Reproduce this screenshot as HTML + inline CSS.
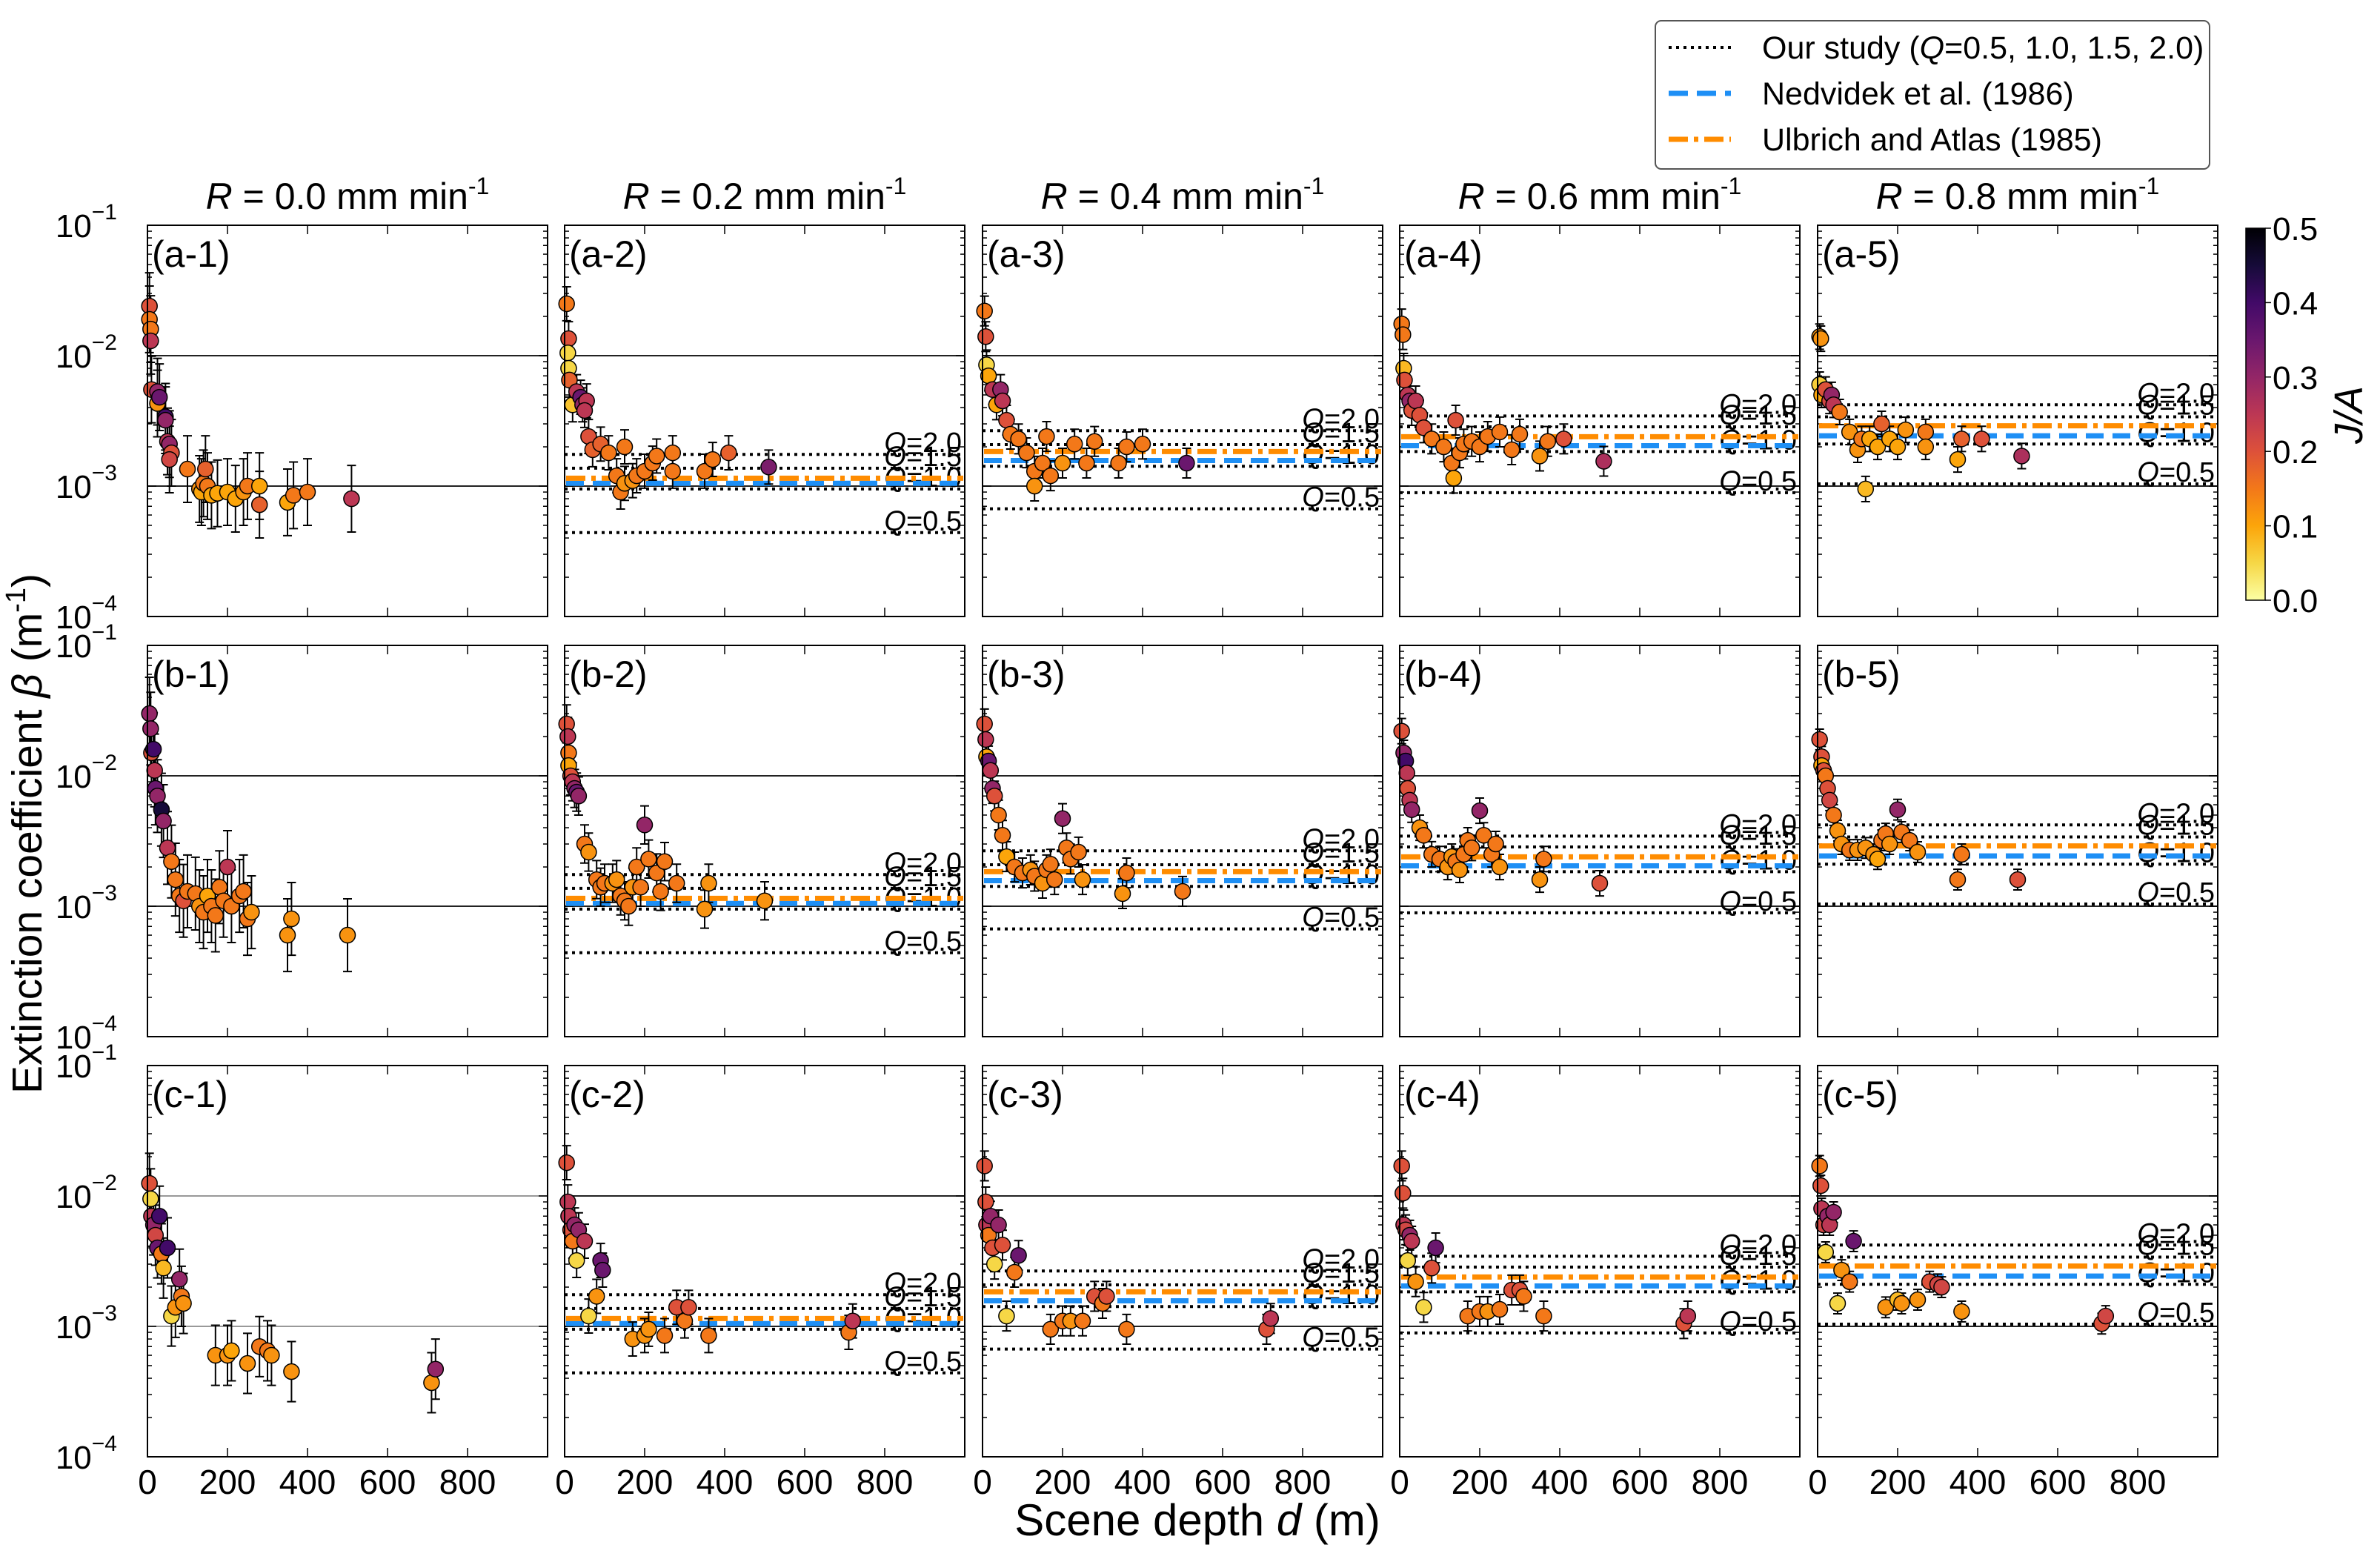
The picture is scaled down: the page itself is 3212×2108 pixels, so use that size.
<!DOCTYPE html>
<html><head><meta charset="utf-8">
<style>
html,body{margin:0;padding:0;background:#fff;}
svg{display:block;font-family:"Liberation Sans",sans-serif;}
</style></head>
<body>
<svg id="fig" width="3212" height="2108" viewBox="0 0 3212 2108" xmlns="http://www.w3.org/2000/svg">
<defs>
<linearGradient id="cbgrad" x1="0" y1="1" x2="0" y2="0">
<stop offset="0" stop-color="#fcffa4"/><stop offset="0.1" stop-color="#f6d746"/><stop offset="0.2" stop-color="#fca50a"/>
<stop offset="0.3" stop-color="#f37819"/><stop offset="0.4" stop-color="#dd513a"/><stop offset="0.5" stop-color="#bc3754"/>
<stop offset="0.6" stop-color="#932667"/><stop offset="0.7" stop-color="#6a176e"/><stop offset="0.8" stop-color="#420a68"/>
<stop offset="0.9" stop-color="#160b39"/><stop offset="1" stop-color="#000004"/>
</linearGradient>
</defs>
</svg>
<script>
// ---- data ----
const rowKeys = ['a','b','c'];
const rainRates = ['0.0','0.2','0.4','0.6','0.8'];
const xTicks = [0,200,400,600,800];
const yTickExps = [-4,-3,-2,-1];
const cbTicks = [0.0,0.1,0.2,0.3,0.4,0.5];
// reference line values per column (R): Q=2.0,1.5,1.0,0.5
const qLabels = ['2.0','1.5','1.0','0.5'];
const qLines = [null,[1.75e-3,1.37e-3,0.95e-3,4.4e-4],[2.66e-3,2.08e-3,1.42e-3,6.7e-4],[3.45e-3,2.85e-3,1.84e-3,0.89e-3],[4.2e-3,3.4e-3,2.1e-3,1.04e-3]];
const nedvidek = [null,1.05e-3,1.57e-3,2.04e-3,2.43e-3];
const ulbrich = [null,1.15e-3,1.84e-3,2.39e-3,2.9e-3];
const errFactor = {a:[1.8,1.35,1.3,1.3,1.25],b:[1.9,1.4,1.3,1.25,1.2],c:[1.7,1.35,1.3,1.3,1.2]};
// points: [d, beta, J/A]
const panels = {
'a-1':[[5,2.4e-2,.2],[5,1.9e-2,.15],[8,1.6e-2,.15],[8,1.3e-2,.25],[10,5.5e-3,.2],[25,5.3e-3,.3],[25,4.3e-3,.12],[30,4.8e-3,.35],[45,3.4e-3,.4],[45,3.2e-3,.3],[50,2.2e-3,.25],[55,2.1e-3,.3],[60,1.8e-3,.2],[55,1.6e-3,.22],[100,1.35e-3,.15],[130,0.95e-3,.12],[135,0.9e-3,.1],[140,1.05e-3,.15],[145,1.35e-3,.18],[150,1.0e-3,.15],[160,0.85e-3,.1],[175,0.88e-3,.1],[200,0.9e-3,.1],[220,0.8e-3,.1],[240,0.9e-3,.12],[250,1.0e-3,.15],[280,1.0e-3,.1],[280,0.72e-3,.18],[350,0.75e-3,.1],[365,0.85e-3,.15],[400,0.9e-3,.15],[510,0.8e-3,.25]],
'a-2':[[5,2.5e-2,.15],[10,1.35e-2,.2],[8,1.05e-2,.05],[10,8e-3,.05],[12,6.5e-3,.18],[20,4.2e-3,.07],[30,5.3e-3,.25],[40,4.8e-3,.35],[45,4.2e-3,.3],[55,4.5e-3,.25],[50,3.8e-3,.25],[60,2.4e-3,.2],[70,1.9e-3,.18],[90,2.1e-3,.18],[110,1.8e-3,.15],[150,2.0e-3,.15],[130,1.2e-3,.15],[140,0.9e-3,.15],[150,1.05e-3,.12],[170,1.1e-3,.12],[180,1.2e-3,.15],[200,1.3e-3,.15],[220,1.5e-3,.15],[230,1.7e-3,.15],[270,1.8e-3,.15],[270,1.3e-3,.15],[350,1.3e-3,.15],[370,1.6e-3,.15],[410,1.8e-3,.18],[510,1.4e-3,.33]],
'a-3':[[5,2.2e-2,.15],[8,1.4e-2,.2],[10,8.5e-3,.05],[15,7e-3,.1],[25,5.5e-3,.25],[35,4.2e-3,.1],[45,5.5e-3,.3],[50,4.5e-3,.25],[60,3.2e-3,.2],[70,2.5e-3,.15],[90,2.3e-3,.15],[110,1.8e-3,.15],[130,1.3e-3,.15],[130,1.0e-3,.12],[150,1.5e-3,.15],[160,2.4e-3,.15],[170,1.2e-3,.15],[200,1.5e-3,.12],[230,2.1e-3,.15],[260,1.5e-3,.15],[280,2.2e-3,.15],[340,1.5e-3,.15],[360,2.0e-3,.15],[400,2.1e-3,.15],[510,1.5e-3,.35]],
'a-4':[[5,1.75e-2,.15],[8,1.45e-2,.15],[10,8e-3,.08],[12,6.5e-3,.2],[20,5e-3,.25],[25,4.5e-3,.3],[30,3.8e-3,.2],[40,4.5e-3,.25],[50,3.5e-3,.2],[60,2.8e-3,.2],[80,2.3e-3,.15],[110,2.0e-3,.15],[130,1.5e-3,.15],[135,1.15e-3,.1],[140,3.2e-3,.2],[150,1.8e-3,.15],[160,2.1e-3,.15],[180,2.2e-3,.15],[200,2.0e-3,.15],[220,2.4e-3,.15],[250,2.6e-3,.15],[280,1.9e-3,.15],[300,2.5e-3,.15],[350,1.7e-3,.12],[370,2.2e-3,.15],[410,2.3e-3,.2],[510,1.55e-3,.27]],
'a-5':[[5,1.4e-2,.12],[8,1.35e-2,.12],[5,6e-3,.06],[10,5e-3,.1],[20,5.5e-3,.2],[30,4.5e-3,.22],[35,5e-3,.3],[40,4.2e-3,.25],[55,3.7e-3,.15],[80,2.6e-3,.12],[100,1.9e-3,.12],[110,2.3e-3,.15],[120,0.95e-3,.08],[130,2.3e-3,.1],[150,2.0e-3,.1],[160,3.0e-3,.18],[180,2.3e-3,.1],[200,2.0e-3,.1],[220,2.7e-3,.12],[270,2.6e-3,.15],[270,2.0e-3,.12],[350,1.6e-3,.1],[360,2.3e-3,.18],[410,2.3e-3,.2],[510,1.7e-3,.27]],
'b-1':[[5,3e-2,.3],[8,2.3e-2,.3],[10,1.5e-2,.2],[15,1.6e-2,.4],[18,1.1e-2,.25],[20,8e-3,.35],[25,7e-3,.3],[35,5.5e-3,.45],[40,4.5e-3,.3],[50,2.8e-3,.25],[60,2.2e-3,.15],[70,1.6e-3,.15],[80,1.2e-3,.15],[90,1.1e-3,.2],[100,1.3e-3,.15],[120,1.25e-3,.15],[130,1.0e-3,.12],[140,0.9e-3,.15],[150,1.2e-3,.1],[160,1.0e-3,.15],[170,0.85e-3,.15],[180,1.4e-3,.15],[190,1.1e-3,.15],[200,2.0e-3,.25],[210,1.0e-3,.15],[230,1.2e-3,.15],[240,1.3e-3,.15],[250,0.8e-3,.15],[260,0.9e-3,.12],[350,0.6e-3,.12],[360,0.8e-3,.12],[500,0.6e-3,.12]],
'b-2':[[5,2.5e-2,.2],[8,2e-2,.25],[10,1.5e-2,.15],[10,1.2e-2,.1],[15,1e-2,.2],[20,9e-3,.25],[25,8e-3,.3],[30,7.5e-3,.35],[35,7e-3,.3],[50,3e-3,.15],[60,2.6e-3,.12],[80,1.6e-3,.15],[90,1.4e-3,.15],[100,1.5e-3,.15],[120,1.5e-3,.12],[130,1.6e-3,.12],[140,1.2e-3,.15],[150,1.1e-3,.15],[160,1.0e-3,.15],[170,1.4e-3,.12],[180,2.0e-3,.15],[190,1.4e-3,.15],[200,4.2e-3,.3],[210,2.3e-3,.15],[230,1.8e-3,.15],[240,1.3e-3,.15],[250,2.2e-3,.15],[280,1.5e-3,.15],[350,0.95e-3,.12],[360,1.5e-3,.12],[500,1.1e-3,.12]],
'b-3':[[5,2.5e-2,.2],[8,1.9e-2,.25],[10,1.4e-2,.1],[15,1.3e-2,.35],[20,1.1e-2,.25],[25,8e-3,.3],[30,7e-3,.2],[40,5e-3,.15],[50,3.5e-3,.15],[60,2.4e-3,.1],[80,2.0e-3,.15],[100,1.8e-3,.15],[120,1.9e-3,.12],[130,1.7e-3,.15],[150,1.5e-3,.12],[160,1.9e-3,.15],[170,2.1e-3,.15],[180,1.6e-3,.15],[200,4.7e-3,.3],[210,2.8e-3,.15],[220,2.3e-3,.15],[240,2.6e-3,.15],[250,1.6e-3,.12],[350,1.25e-3,.12],[360,1.8e-3,.15],[500,1.3e-3,.15]],
'b-4':[[5,2.2e-2,.2],[10,1.5e-2,.3],[15,1.3e-2,.4],[18,1.05e-2,.25],[20,8e-3,.2],[25,6.5e-3,.25],[30,5.5e-3,.3],[50,4e-3,.12],[60,3.5e-3,.15],[80,2.5e-3,.15],[100,2.3e-3,.15],[120,2.0e-3,.12],[130,2.4e-3,.12],[140,2.2e-3,.15],[150,1.9e-3,.12],[160,2.5e-3,.15],[170,3.2e-3,.15],[180,2.8e-3,.15],[200,5.4e-3,.3],[210,3.5e-3,.15],[230,2.5e-3,.15],[240,3.0e-3,.15],[250,2.0e-3,.12],[350,1.6e-3,.12],[360,2.3e-3,.15],[500,1.5e-3,.2]],
'b-5':[[5,1.9e-2,.2],[10,1.4e-2,.2],[10,1.2e-2,.1],[15,1.1e-2,.2],[20,1e-2,.15],[25,8e-3,.2],[30,6.5e-3,.22],[40,5e-3,.15],[50,3.8e-3,.12],[60,3.0e-3,.12],[80,2.7e-3,.15],[100,2.7e-3,.12],[120,2.8e-3,.12],[140,2.5e-3,.12],[150,2.3e-3,.1],[160,3.2e-3,.15],[170,3.6e-3,.15],[180,3.0e-3,.12],[200,5.5e-3,.3],[210,3.7e-3,.15],[230,3.2e-3,.15],[250,2.6e-3,.12],[350,1.6e-3,.15],[360,2.5e-3,.15],[500,1.6e-3,.2]],
'c-1':[[5,1.25e-2,.2],[8,9.5e-3,.05],[10,7e-3,.25],[15,6e-3,.3],[20,5e-3,.22],[25,4e-3,.35],[30,7e-3,.4],[35,3.6e-3,.15],[40,2.8e-3,.08],[50,4e-3,.4],[60,1.2e-3,.05],[70,1.4e-3,.12],[80,2.3e-3,.3],[85,1.7e-3,.15],[90,1.5e-3,.12],[170,0.6e-3,.12],[200,0.6e-3,.12],[210,0.65e-3,.1],[250,0.52e-3,.12],[280,0.7e-3,.15],[300,0.65e-3,.15],[310,0.6e-3,.12],[360,0.45e-3,.12],[710,0.37e-3,.12],[720,0.47e-3,.3]],
'c-2':[[5,1.8e-2,.2],[8,9e-3,.25],[10,7e-3,.25],[15,5.5e-3,.2],[20,4.5e-3,.15],[25,6e-3,.3],[30,3.2e-3,.05],[35,5.5e-3,.3],[50,4.5e-3,.25],[60,1.2e-3,.05],[80,1.7e-3,.12],[90,3.2e-3,.35],[95,2.7e-3,.35],[170,0.8e-3,.12],[200,0.85e-3,.12],[210,0.95e-3,.12],[250,0.85e-3,.15],[280,1.4e-3,.2],[300,1.1e-3,.15],[310,1.4e-3,.2],[360,0.85e-3,.15],[710,0.9e-3,.15],[720,1.1e-3,.25]],
'c-3':[[5,1.7e-2,.2],[8,9e-3,.2],[10,6e-3,.25],[15,5e-3,.15],[20,7e-3,.3],[25,4e-3,.2],[30,3e-3,.05],[40,6e-3,.3],[50,4.2e-3,.2],[60,1.2e-3,.05],[80,2.6e-3,.15],[90,3.5e-3,.35],[170,0.95e-3,.15],[200,1.1e-3,.15],[220,1.1e-3,.12],[250,1.1e-3,.15],[280,1.7e-3,.2],[300,1.5e-3,.15],[310,1.7e-3,.2],[360,0.95e-3,.15],[710,0.95e-3,.2],[720,1.15e-3,.25]],
'c-4':[[5,1.7e-2,.2],[8,1.05e-2,.2],[10,6e-3,.25],[15,5.5e-3,.22],[20,3.2e-3,.05],[25,5e-3,.3],[30,4.5e-3,.25],[40,2.2e-3,.12],[60,1.4e-3,.05],[80,2.8e-3,.2],[90,4e-3,.35],[170,1.2e-3,.15],[200,1.3e-3,.15],[220,1.3e-3,.12],[250,1.35e-3,.15],[280,1.9e-3,.2],[300,1.9e-3,.2],[310,1.7e-3,.15],[360,1.2e-3,.15],[710,1.05e-3,.2],[720,1.2e-3,.25]],
'c-5':[[5,1.7e-2,.15],[8,1.2e-2,.2],[10,8e-3,.25],[15,6e-3,.22],[20,3.7e-3,.05],[25,7e-3,.3],[30,6e-3,.25],[40,7.5e-3,.3],[50,1.5e-3,.05],[60,2.7e-3,.12],[80,2.2e-3,.15],[90,4.5e-3,.35],[170,1.4e-3,.12],[200,1.6e-3,.08],[210,1.5e-3,.12],[250,1.6e-3,.12],[280,2.2e-3,.2],[300,2.1e-3,.22],[310,2.0e-3,.22],[360,1.3e-3,.12],[710,1.05e-3,.2],[720,1.2e-3,.22]]
};
// ---- layout ----
const NS='http://www.w3.org/2000/svg';
const svg=document.getElementById('fig');
const colX=[199,762,1326,1889,2453], rowY=[304,871,1438], PW=540, PH=528;
const infernoStops=['#000004','#160b39','#420a68','#6a176e','#932667','#bc3754','#dd513a','#f37819','#fca50a','#f6d746','#fcffa4'];
function hx(c){return [parseInt(c.substr(1,2),16),parseInt(c.substr(3,2),16),parseInt(c.substr(5,2),16)];}
function cmap(ja){let t=1-Math.max(0,Math.min(0.5,ja))/0.5;let p=t*10,i=Math.min(9,Math.floor(p)),f=p-i;
 const a=hx(infernoStops[i]),b=hx(infernoStops[i+1]);return 'rgb('+a.map((v,k)=>Math.round(v+(b[k]-v)*f)).join(',')+')';}
function el(tag,attrs,parent){const e=document.createElementNS(NS,tag);for(const k in attrs)e.setAttribute(k,attrs[k]);(parent||svg).appendChild(e);return e;}
function xScale(c,d){return colX[c]+d/1000*PW;}
function yScale(r,b){return rowY[r]+(-1-Math.log10(b))/3*PH;}

rowKeys.forEach((rk,r)=>{
 rainRates.forEach((rr,c)=>{
  const g=el('g',{});
  
  
  const x0=colX[c],y0=rowY[r];
  [-2,-3].forEach(e=>{const gl=el('line',{x1:x0,x2:x0+PW,y1:yScale(r,Math.pow(10,e)),y2:yScale(r,Math.pow(10,e)),stroke:r==2&&c==0?'#999':'#222','stroke-width':2},g);
   });
  for(let e=-4;e<-1;e++){for(let m=1;m<10;m++){const y=yScale(r,m*Math.pow(10,e));const len=m==1?12:6;
   el('line',{x1:x0,x2:x0+len,y1:y,y2:y,stroke:'#000','stroke-width':1.5},g);
   el('line',{x1:x0+PW,x2:x0+PW-len,y1:y,y2:y,stroke:'#000','stroke-width':1.5},g);}}
  xTicks.forEach(v=>{const x=xScale(c,v);el('line',{x1:x,x2:x,y1:y0+PH,y2:y0+PH-12,stroke:'#000','stroke-width':1.5},g);
   el('line',{x1:x,x2:x,y1:y0,y2:y0+12,stroke:'#000','stroke-width':1.5},g);});
  if(qLines[c]){
   qLines[c].forEach((q,i)=>{const y=yScale(r,q);
    const ql=el('line',{x1:x0,x2:x0+PW,y1:y,y2:y,stroke:'#000','stroke-width':4,'stroke-dasharray':'4 6'},g);
    
    const t=el('text',{x:x0+PW-4,y:y-3,'text-anchor':'end','font-size':38,fill:'#000'},g);
    
    t.innerHTML='<tspan font-style="italic">Q</tspan>='+qLabels[i];});
   let yb=yScale(r,nedvidek[c]);
   const nl=el('line',{x1:x0+2,x2:x0+PW-2,y1:yb,y2:yb,stroke:'#1e8ff5','stroke-width':7,'stroke-dasharray':'24 12'},g);
   
   let yo=yScale(r,ulbrich[c]);
   const ul=el('line',{x1:x0+2,x2:x0+PW-2,y1:yo,y2:yo,stroke:'#ff8c00','stroke-width':7,'stroke-dasharray':'26 8 6 8'},g);
   
  }
  const f=errFactor[rk][c];
  panels[rk+'-'+(c+1)].forEach(p=>{
   const x=xScale(c,p[0]),y=yScale(r,p[1]),yt=yScale(r,p[1]*f),yb2=yScale(r,p[1]/f);
   const eb=el('path',{d:`M${x},${yt}V${yb2}M${x-6},${yt}H${x+6}M${x-6},${yb2}H${x+6}`,stroke:'#000','stroke-width':2,fill:'none'},g);
   
  });
  panels[rk+'-'+(c+1)].forEach(p=>{
   const pt=el('circle',{cx:xScale(c,p[0]),cy:yScale(r,p[1]),r:10.5,fill:cmap(p[2]),stroke:'#000','stroke-width':1.5},g);
   
  });
  const fr=el('rect',{x:x0,y:y0,width:PW,height:PH,fill:'none',stroke:'#000','stroke-width':2},g);
  
  const lb=el('text',{x:x0+6,y:y0+56,'font-size':50},g);
  
  lb.textContent='('+rk+'-'+(c+1)+')';
  if(r==0){const tt=el('text',{x:x0+PW/2,y:y0-22,'text-anchor':'middle','font-size':50},g);
   
   tt.innerHTML='<tspan font-style="italic">R</tspan> = '+rr+' mm min<tspan dy="-20" font-size="32">-1</tspan>';}
  if(c==0){yTickExps.forEach(e=>{const y=yScale(r,Math.pow(10,e));
   const t=el('text',{x:158,y:y+16,'text-anchor':'end','font-size':44},g);
   
   t.innerHTML='10<tspan dy="-24" font-size="30">\u2212'+(-e)+'</tspan>';});}
  if(r==2){xTicks.forEach(v=>{const t=el('text',{x:xScale(c,v),y:y0+PH+50,'text-anchor':'middle','font-size':46},g);
   t.textContent=v;});}
 });
});
let t=el('text',{x:1616,y:2072,'text-anchor':'middle','font-size':60});

t.innerHTML='Scene depth <tspan font-style="italic">d</tspan> (m)';
t=el('text',{x:0,y:0,'text-anchor':'middle','font-size':57,transform:'translate(56,1125) rotate(-90)'});

t.innerHTML='Extinction coefficient <tspan font-style="italic">β</tspan> (m<tspan dy="-22" font-size="38">-1</tspan><tspan dy="22">)</tspan>';
const cbX=3031,cbY=308,cbW=26,cbH=502;
let cb=el('rect',{x:cbX,y:cbY,width:cbW,height:cbH,fill:'url(#cbgrad)',stroke:'#000','stroke-width':1.5});

cbTicks.forEach(v=>{const y=cbY+cbH-v/0.5*cbH;
 el('line',{x1:cbX+cbW,x2:cbX+cbW+8,y1:y,y2:y,stroke:'#000','stroke-width':1.5});
 const tl=el('text',{x:cbX+cbW+10,y:y+16,'font-size':44});
 tl.textContent=v.toFixed(1);});
t=el('text',{x:0,y:0,'text-anchor':'middle','font-size':54,'font-style':'italic',transform:'translate(3188,560) rotate(-90)'});
t.textContent='J/A';
const lg=el('g',{});

el('rect',{x:2234,y:28,width:748,height:200,rx:8,fill:'#fff',stroke:'#555','stroke-width':2},lg);
const legY=[64,126,188];
const ld=el('line',{x1:2252,x2:2336,y1:legY[0],y2:legY[0],stroke:'#000','stroke-width':4,'stroke-dasharray':'4 6'},lg);

const lb2=el('line',{x1:2252,x2:2336,y1:legY[1],y2:legY[1],stroke:'#1e8ff5','stroke-width':7,'stroke-dasharray':'26 12'},lg);

const lo=el('line',{x1:2252,x2:2336,y1:legY[2],y2:legY[2],stroke:'#ff8c00','stroke-width':7,'stroke-dasharray':'26 8 6 8'},lg);

const legT=['Our study (<tspan font-style="italic">Q</tspan>=0.5, 1.0, 1.5, 2.0)','Nedvidek et al. (1986)','Ulbrich and Atlas (1985)'];
legT.forEach((s,i)=>{const tx=el('text',{x:2378,y:legY[i]+15,'font-size':43},lg);
 tx.innerHTML=s;});
</script>
</body></html>
